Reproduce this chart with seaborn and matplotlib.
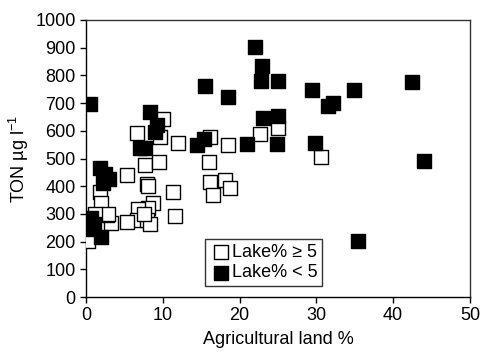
import matplotlib
matplotlib.use("Agg")
import matplotlib.pyplot as plt
import seaborn as sns
import pandas as pd

# Lake% >= 5 (open squares)
open_x = [5.3, 7.7, 9.5, 7.9, 8.1, 11.3, 11.6, 8.7, 8.1, 6.8, 6.6, 7.9, 5.3, 3.2, 1.8, 1.9,
          2.7, 2.9, 0.3, 8.3, 6.6, 10.0, 9.6, 12.0, 16.1, 18.5, 22.7, 25.0, 16.0, 16.1,
          18.1, 16.5, 18.8, 30.6, 1.2, 7.5]
open_y = [440, 477, 488, 408, 401, 380, 292, 340, 320, 317, 278, 278, 271, 267, 380, 340,
          296, 300, 202, 265, 592, 643, 578, 556, 578, 549, 588, 610, 487, 415,
          422, 368, 393, 505, 300, 300]

# Lake% < 5 (filled squares)
fill_x = [0.5, 22.0, 22.9, 22.8, 25.0, 15.5, 18.5, 29.4, 34.9, 31.5, 32.2, 42.4, 44.0,
          35.4, 29.8, 23.0, 25.0, 24.9, 21.0, 14.5, 15.4, 8.3, 9.3, 9.0, 7.0, 7.7,
          1.8, 2.5, 3.0, 2.2, 0.7, 0.6, 1.9, 1.0]
fill_y = [695, 902, 834, 778, 780, 762, 722, 747, 747, 690, 702, 776, 491,
          202, 556, 646, 653, 552, 552, 549, 570, 668, 621, 596, 538, 538,
          465, 445, 425, 410, 285, 245, 215, 262]

labels = ["Lake% \u2265 5", "Lake% < 5"]

main = 'Liberation Sans'
fs = 13

plt.rcParams['font.family'] = [main, 'DejaVu Sans']
plt.rcParams['mathtext.fontset'] = 'custom'
plt.rcParams['mathtext.rm'] = main
plt.rcParams['mathtext.it'] = main

fig = plt.figure(figsize=(4.81, 3.57), dpi=100)
ax = fig.add_axes([0.1788, 0.168, 0.7982, 0.776])

df_open = pd.DataFrame({"x": open_x, "y": open_y})
df_fill = pd.DataFrame({"x": fill_x, "y": fill_y})

sns.scatterplot(data=df_open, x="x", y="y", marker="s", s=112, facecolor="white",
                edgecolor="black", linewidth=1.0, ax=ax, label=labels[0], zorder=3)
sns.scatterplot(data=df_fill, x="x", y="y", marker="s", s=112, color="black",
                edgecolor="black", linewidth=1.0, ax=ax, label=labels[1], zorder=3)

ax.set_xlim(0, 50)
ax.set_ylim(0, 1000)
ax.set_xticks(range(0, 51, 10))
ax.set_yticks(range(0, 1001, 100))
ax.tick_params(axis='both', direction='out', length=4.5, width=1, labelsize=fs,
               colors='black', top=False, right=False, pad=3)
for sp in ax.spines.values():
    sp.set_color('#333333')
    sp.set_linewidth(1)
ax.spines['left'].set_color('black')
ax.spines['bottom'].set_color('black')

ax.set_xlabel("Agricultural land %", fontsize=fs, labelpad=5)
ax.set_ylabel(r"TON µg l$^{-1}$", fontsize=fs, labelpad=3)

leg = ax.legend(loc='lower left', bbox_to_anchor=(0.311, 0.04), frameon=True,
                fancybox=False, edgecolor='black', fontsize=fs, handletextpad=0.0,
                borderpad=0.25, labelspacing=0.2, handlelength=1.2, borderaxespad=0,
                markerscale=1.0)
leg.get_frame().set_linewidth(1)

fig.savefig("out.png", dpi=100)
